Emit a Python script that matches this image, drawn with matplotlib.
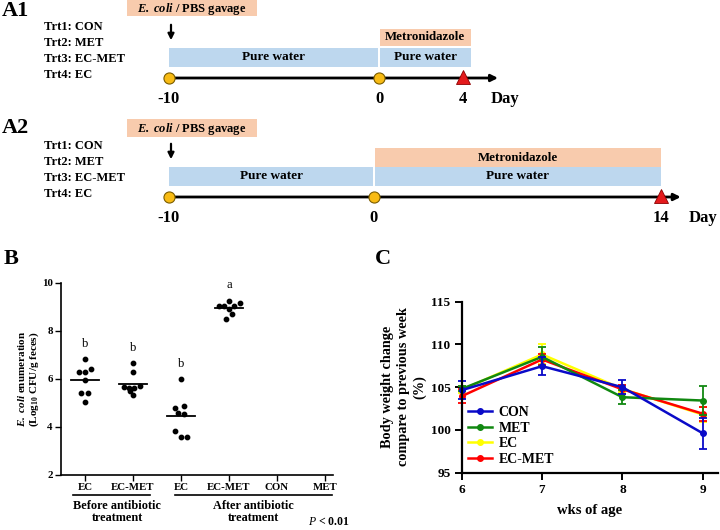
import matplotlib
matplotlib.use('Agg')
import matplotlib.pyplot as plt
from matplotlib.patches import Rectangle
import matplotlib.transforms as mtransforms
import numpy as np

plt.rcParams['font.family'] = 'Liberation Serif'
plt.rcParams['mathtext.fontset'] = 'custom'
plt.rcParams['mathtext.rm'] = 'Liberation Serif'
plt.rcParams['mathtext.it'] = 'Liberation Serif:italic'
plt.rcParams['mathtext.bf'] = 'Liberation Serif:bold'
plt.rcParams['mathtext.bfit'] = 'Liberation Serif:bold:italic'

# ---------------- data ----------------
treatments = ['Trt1: CON', 'Trt2: MET', 'Trt3: EC-MET', 'Trt4: EC']
a1_days = [-10, 0, 4]
a2_days = [-10, 0, 14]

b_groups = ['EC', 'EC-MET', 'EC', 'EC-MET', 'CON', 'MET']
b_ec_before = [6.81, 6.30, 6.28, 6.39, 5.95, 5.40, 5.40, 5.02]
b_ecmet_before = [6.65, 6.30, 5.67, 5.60, 5.60, 5.70, 5.50, 5.33]
b_ec_after = [5.98, 4.80, 4.87, 4.57, 4.55, 3.83, 3.59, 3.60]
b_ecmet_after = [9.24, 9.03, 9.01, 9.14, 9.01, 8.89, 8.68, 8.48]
b_letters = ['b', 'b', 'b', 'a']
b_letter_pos = [7.45, 7.28, 6.62, 9.90]

weeks = [6, 7, 8, 9]
con = [104.65, 107.46, 105.0, 99.61]
con_err = [1.05, 1.07, 0.85, 1.8]
met = [104.8, 108.55, 103.83, 103.44]
met_err = [0.3, 1.1, 0.8, 1.65]
ec = [104.7, 108.83, 104.8, 101.8]
ec_err = [0.4, 1.17, 0.4, 0.9]
ecmet = [103.95, 108.24, 104.75, 101.9]
ecmet_err = [0.8, 0.7, 0.5, 0.8]

# horizontal spread of the dots (pixels)
b_jitter = [[0, -6, 0, 6, 0, -3.5, 3.5, 0],
            [0, 0, -9, -4, 1, 7, -3, 0],
            [0, -6, 3, -2.7, 3, -6, 0, 5.7],
            [0, -10.3, -5.3, 10.7, 5.3, 0, 3, -3]]

PEACH = '#f8cbad'
BLUE = '#bdd7ee'

W, H = 720, 530
fig = plt.figure(figsize=(7.2, 5.3), dpi=100)


def fax(x0, y0, x1, y1):
    return fig.add_axes([x0 / W, 1 - y1 / H, (x1 - x0) / W, (y1 - y0) / H])


# overlay in pixel coords for labels
ov = fax(0, 0, W, H)
ov.set_xlim(0, W)
ov.set_ylim(H, 0)
ov.axis('off')

ov.text(2, 11, 'A1', fontsize=16, fontweight='bold', va='center')
ov.text(2, 128, 'A2', fontsize=16, fontweight='bold', va='center')
ov.text(4, 259, 'B', fontsize=16, fontweight='bold', va='center')
ov.text(383, 259, 'C', fontsize=16, fontweight='bold', va='center', ha='center')

for top in [0, 119]:
    for i, t in enumerate(treatments):
        ov.text(44, top + 27 + 16 * i, t, fontsize=9, fontweight='bold', va='center')
    ov.add_patch(Rectangle((127, top if top else 0), 130, 16 if top == 0 else 18,
                           color=PEACH, lw=0))
    ov.text(192, top + 9 if top == 0 else top + 10, r'$\mathbfit{E.\ coli}$ / PBS gavage',
            fontsize=9, fontweight='bold', ha='center', va='center')
    ov.annotate('', xy=(171, top + 43), xytext=(171, top + 22),
                arrowprops=dict(arrowstyle='-|>', color='black', lw=1.6, mutation_scale=9))


# ---------------- timelines ----------------
def timeline(ax, days, box_end, met_box, arrow_end):
    ax.set_ylim(120, 0)
    ax.axis('off')
    start, mid, last = days
    # water / antibiotic boxes
    ax.add_patch(Rectangle((start, 48), mid - start - 0.05, 18.5, color=BLUE, lw=0))
    ax.add_patch(Rectangle((mid + 0.05, 48), box_end - mid - 0.05, 18.5, color=BLUE, lw=0))
    ax.add_patch(Rectangle((mid + 0.05, met_box[0]), box_end - mid - 0.05,
                           met_box[1] - met_box[0], color=PEACH, lw=0))
    ax.text((start + mid) / 2, 57, 'Pure water', fontsize=9.5, fontweight='bold',
            ha='center', va='center')
    ax.text((mid + box_end) / 2, 57, 'Pure water', fontsize=9.5, fontweight='bold',
            ha='center', va='center')
    ax.text((mid + box_end) / 2, sum(met_box) / 2, 'Metronidazole', fontsize=9.3,
            fontweight='bold', ha='center', va='center')
    ax.annotate('', xy=(arrow_end, 78), xytext=(start, 78),
                arrowprops=dict(arrowstyle='-|>', color='black', lw=2.0, mutation_scale=10))
    ax.plot([start, mid], [78, 78], 'o', ms=8, mfc='#f8bb14', mec='#7a5c00', mew=0.8,
            zorder=4)
    ax.plot([last], [77], '^', ms=10, mfc='#e41a1c', mec='#8b0000', mew=0.6, zorder=4)
    for d in days:
        ax.text(d, 99, str(d), fontsize=12, fontweight='bold', ha='center', va='center')
    ax.annotate('Day', xy=(last, 99), xytext=(20, 0), textcoords='offset points',
                fontsize=12, fontweight='bold', ha='left', va='center')


a1 = fax(0, 0, W, 120)
a1.set_xlim(-379 / 21, (W - 379) / 21)
timeline(a1, a1_days, 4.4, (29, 46), 5.8)

a2 = fax(0, 119, W, 239)
a2.set_xlim(-374 / 20.5, (W - 374) / 20.5)
timeline(a2, a2_days, 14, (29, 48), 15.1)

# ---------------- panel B ----------------
axb = fax(61, 282.7, 333, 475)
b_values = [b_ec_before, b_ecmet_before, b_ec_after, b_ecmet_after]
for i, vals in enumerate(b_values):
    x = i + 1 + np.array(b_jitter[i]) / 48
    axb.scatter(x, vals, s=10, color='black', zorder=3, clip_on=False)
    m = np.mean(vals)
    axb.plot([i + 1 - 0.29, i + 1 + 0.29], [m, m], color='black', lw=1.3)
    axb.text(i + 1, b_letter_pos[i], b_letters[i], fontsize=9, ha='center', va='center')

axb.set_xlim(0.5, 6.17)
axb.set_ylim(2, 10)
axb.set_xticks(range(1, 7))
axb.set_xticklabels(b_groups, fontsize=7.8, fontweight='bold')
axb.set_yticks([2, 4, 6, 8, 10])
axb.set_yticklabels(['2', '4', '6', '8', '10'], fontsize=7.8, fontweight='bold')
for s in ['top', 'right']:
    axb.spines[s].set_visible(False)
for s in ['left', 'bottom']:
    axb.spines[s].set_linewidth(1.2)
axb.tick_params(length=4, width=1.0, pad=2)

tr = mtransforms.blended_transform_factory(axb.transData, axb.transAxes)
axb.plot([0.75, 2.35], [-0.104, -0.104], color='black', lw=1.2, transform=tr, clip_on=False)
axb.plot([2.875, 6.15], [-0.104, -0.104], color='black', lw=1.2, transform=tr, clip_on=False)
axb.text(1.67, -0.13, 'Before antibiotic\ntreatment', transform=tr, fontsize=8.8,
         fontweight='bold', ha='center', va='top', linespacing=1.05)
axb.text(4.52, -0.13, 'After antibiotic\ntreatment', transform=tr, fontsize=8.8,
         fontweight='bold', ha='center', va='top', linespacing=1.05)
ov.text(350, 522, r'$\mathit{P}$ < 0.01', fontsize=8.5, fontweight='bold', ha='right',
        va='center')

ov.text(22, 379, r'$\mathbfit{E.\ coli}$ enumeration', fontsize=8, fontweight='bold',
        rotation=90, ha='center', va='center')
ov.text(34, 379, r'(Log$_{\mathbf{10}}$ CFU/g feces)', fontsize=8, fontweight='bold',
        rotation=90, ha='center', va='center')

# ---------------- panel C ----------------
axc = fax(461.7, 301.7, 718, 472.7)
series = [('EC', ec, ec_err, '#ffff00'),
          ('EC-MET', ecmet, ecmet_err, '#ff0000'),
          ('MET', met, met_err, '#118811'),
          ('CON', con, con_err, '#0a0ac8')]
handles = {}
for name, vals, err, col in series:
    axc.errorbar(weeks, vals, yerr=err, color=col, lw=1.8, capsize=3, capthick=1.3,
                 elinewidth=1.3, fmt='none', clip_on=False)
    ln, = axc.plot(weeks, vals, '-o', color=col, lw=1.8, ms=4, clip_on=False)
    handles[name] = ln

axc.legend([handles[k] for k in ['CON', 'MET', 'EC', 'EC-MET']],
           ['CON', 'MET', 'EC', 'EC-MET'], loc='upper left', bbox_to_anchor=(0.025, 0.39),
           frameon=False, prop={'size': 10, 'weight': 'bold'}, handlelength=1.7,
           handletextpad=0.5, labelspacing=0.18, borderpad=0, borderaxespad=0)

axc.set_xlim(6, 9.19)
axc.set_ylim(95, 115)
axc.set_xticks(weeks)
axc.set_yticks([95, 100, 105, 110, 115])
for s in ['top', 'right']:
    axc.spines[s].set_visible(False)
for s in ['left', 'bottom']:
    axc.spines[s].set_linewidth(1.6)
axc.tick_params(length=5, width=1.4, labelsize=9.5, pad=3)
for lab in axc.get_xticklabels() + axc.get_yticklabels():
    lab.set_fontweight('bold')
axc.set_xlabel('wks of age', fontsize=10.5, fontweight='bold', labelpad=6)
ov.text(404, 387, 'Body weight change\ncompare to previous week\n(%)', fontsize=10.3,
        fontweight='bold', rotation=90, ha='center', va='center', linespacing=1.3)

fig.savefig('out.png', dpi=100)
